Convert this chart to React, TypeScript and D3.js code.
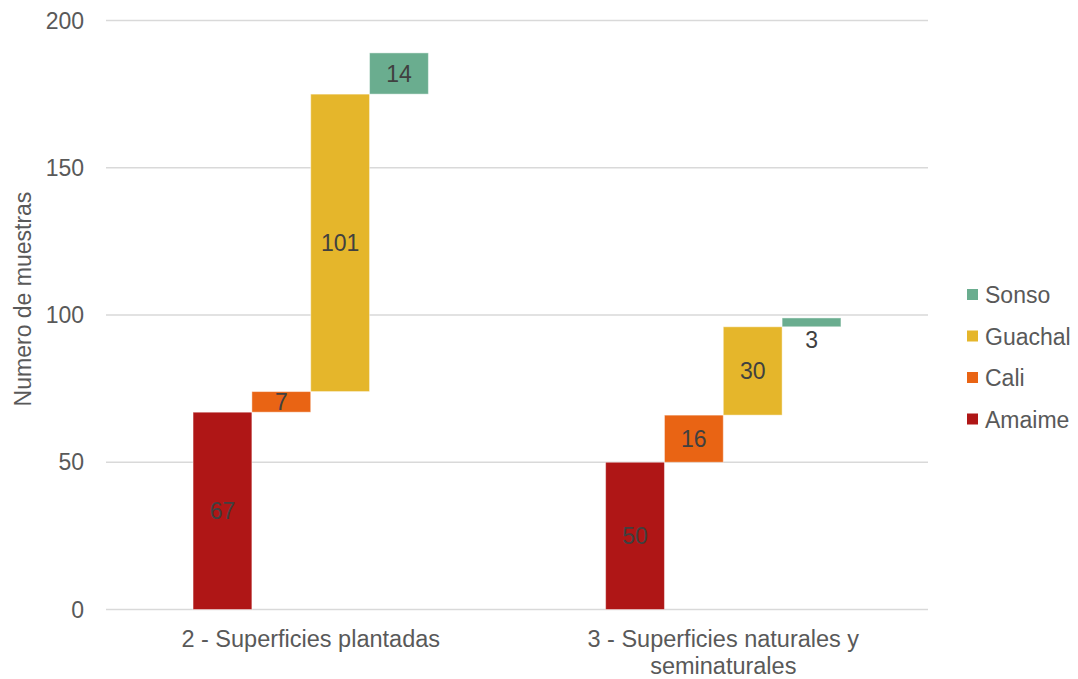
import React from "react";
import * as d3 from "d3";

// Categories (land cover classes) and per-site sample counts
const categories = ["2 - Superficies plantadas", "3 - Superficies naturales y seminaturales"];
const categoryLines = [["2 - Superficies plantadas"], ["3 - Superficies naturales y", "seminaturales"]];
const sites = ["Amaime", "Cali", "Guachal", "Sonso"];
const plantadas = [67, 7, 101, 14];
const naturales = [50, 16, 30, 3];
const yTicks = [0, 50, 100, 150, 200];
const siteColors = ["#AF1616", "#E96414", "#E5B62B", "#6AAD8F"];

const W = 1078;
const H = 679;
const FONT = "'Liberation Sans', Arial, sans-serif";
const TEXT = "#595959";
const LABEL = "#404040";

export default function App() {
  const plotLeft = 106;
  const plotRight = 928;
  const y = d3.scaleLinear().domain([0, 200]).range([609.5, 20.5]);
  const x0 = d3
    .scaleBand<string>()
    .domain(categories)
    .range([plotLeft, plotRight])
    .paddingInner(0.4296)
    .paddingOuter(0.211);
  const x1 = d3.scaleBand<string>().domain(sites).range([0, x0.bandwidth()]);

  const seriesByCat = [plantadas, naturales];

  // Each site bar floats on the cumulative total of the previous sites
  const bars = seriesByCat.flatMap((vals, ci) => {
    let acc = 0;
    return vals.map((v, si) => {
      const start = acc;
      acc += v;
      return { ci, si, start, end: acc, value: v };
    });
  });

  return (
    <svg width={W} height={H} style={{ position: "absolute", left: 0, top: 0, background: "#fff" }}>
      {/* gridlines */}
      {yTicks.map((t) => (
        <line key={t} x1={plotLeft} x2={plotRight} y1={y(t)} y2={y(t)} stroke="#D9D9D9" strokeWidth={1.5} />
      ))}
      {/* y tick labels */}
      {yTicks.map((t) => (
        <text key={"t" + t} x={84} y={y(t) + 8} textAnchor="end" fontFamily={FONT} fontSize={23} fill={TEXT}>
          {t}
        </text>
      ))}
      {/* y axis title */}
      <text
        transform={`translate(31,299) rotate(-90)`}
        textAnchor="middle"
        fontFamily={FONT}
        fontSize={23}
        fill={TEXT}
      >
        Numero de muestras
      </text>
      {/* bars */}
      {bars.map((b) => {
        const x = (x0(categories[b.ci]) as number) + (x1(sites[b.si]) as number);
        const y0 = y(b.start);
        const y1 = y(b.end);
        return (
          <rect
            key={`${b.ci}-${b.si}`}
            x={x}
            y={y1}
            width={x1.bandwidth()}
            height={y0 - y1}
            fill={siteColors[b.si]}
            stroke="#ffffff"
            strokeOpacity={0.45}
            strokeWidth={1}
          />
        );
      })}
      {/* value labels */}
      {bars.map((b) => {
        const cx = (x0(categories[b.ci]) as number) + (x1(sites[b.si]) as number) + x1.bandwidth() / 2;
        const h = y(b.start) - y(b.end);
        const inside = h > 20;
        const cy = inside ? (y(b.start) + y(b.end)) / 2 + 8 : y(b.start) + 21;
        return (
          <text key={`l${b.ci}-${b.si}`} x={cx} y={cy} textAnchor="middle" fontFamily={FONT} fontSize={23} fill={LABEL}>
            {b.value}
          </text>
        );
      })}
      {/* category labels */}
      {categories.map((c, ci) => {
        const cx = (x0(c) as number) + x0.bandwidth() / 2;
        return categoryLines[ci].map((line, li) => (
          <text
            key={`c${ci}-${li}`}
            x={cx}
            y={647 + li * 26.5}
            textAnchor="middle"
            fontFamily={FONT}
            fontSize={23.5}
            fill={TEXT}
          >
            {line}
          </text>
        ));
      })}
      {/* legend, listed top to bottom in reverse stacking order */}
      {sites
        .map((s, i) => ({ s, i }))
        .reverse()
        .map(({ s, i }, k) => (
          <g key={s} transform={`translate(967,${289 + k * 41.5})`}>
            <rect x={0} y={0} width={11} height={11} fill={siteColors[i]} />
            <text x={18} y={14} fontFamily={FONT} fontSize={23} fill={TEXT}>
              {s}
            </text>
          </g>
        ))}
    </svg>
  );
}
